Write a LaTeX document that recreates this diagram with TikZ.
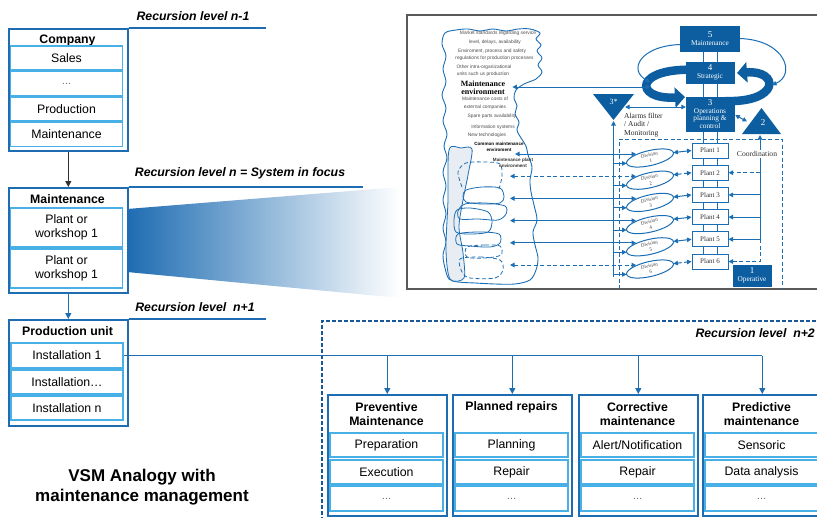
\documentclass[tikz,border=0pt]{standalone}
\usepackage{fontspec}
\setmainfont{Liberation Sans}
\newfontfamily\vsmserif{Liberation Serif}
\usetikzlibrary{arrows.meta,calc,shapes.geometric}
\definecolor{outerblue}{RGB}{30,108,178}
\definecolor{innerblue}{RGB}{72,176,230}
\definecolor{vsmblue}{RGB}{12,94,160}
\definecolor{vsmline}{RGB}{28,110,180}
\definecolor{framegray}{RGB}{90,90,90}
\definecolor{cloudtext}{RGB}{75,75,75}
\definecolor{spinegray}{RGB}{232,237,243}
\definecolor{dashblue}{RGB}{25,88,150}
\definecolor{arrowgray}{RGB}{50,50,50}
\pgfdeclarelayer{bg}
\pgfsetlayers{bg,main}
\begin{document}
\begin{tikzpicture}[x=1pt,y=-1pt,
  outerbox/.style={draw=outerblue,line width=1.6pt,inner sep=0pt,anchor=north west,minimum width=119pt},
  innerbox/.style={draw=innerblue,line width=1.1pt,inner sep=0pt,minimum width=#1,minimum height=24pt,
    align=center,font=\fontsize{12.3}{14.5}\selectfont},
  innerbox/.default=112pt,
  boxtitle/.style={font=\fontsize{12.3}{14}\selectfont\bfseries,align=center,inner sep=0pt},
  reclabel/.style={font=\fontsize{12.3}{14}\selectfont\bfseries\itshape,inner sep=0pt},
  levelline/.style={draw=outerblue,line width=1.5pt},
  bus/.style={draw=outerblue,line width=1.2pt},
  busarrow/.style={bus,-{Triangle[length=6pt,width=6pt]}},
  dashbox/.style={draw=dashblue,line width=1.4pt,dash pattern=on 4pt off 2pt},
  dotsfont/.style={font=\fontsize{10}{12}\selectfont,text=black!65},
  vsmbox/.style={fill=vsmblue,draw=vsmblue,text=white,inner sep=0pt,align=center,
    font=\vsmserif\fontsize{7.3}{8}\selectfont},
  vsmthin/.style={draw=vsmline,line width=1pt},
  vsmone/.style={vsmthin,-{Triangle[length=4.5pt,width=4.5pt]}},
  vsmtwo/.style={vsmthin,{Triangle[length=4.5pt,width=4.5pt]}-{Triangle[length=4.5pt,width=4.5pt]}},
  vsmdash/.style={dash pattern=on 4pt off 2.5pt},
  plantbox/.style={draw=vsmline,line width=1pt,fill=white,minimum width=36pt,minimum height=15pt,
    inner sep=0pt,font=\vsmserif\fontsize{7}{8}\selectfont,text=black!80},
  division/.style={ellipse,draw=vsmline,line width=1pt,fill=white,minimum width=48pt,minimum height=15pt,
    inner sep=0pt,rotate=13,align=center,font=\vsmserif\fontsize{5}{6}\selectfont,text=black!75},
  cloudtxt/.style={font=\fontsize{4.85}{5.5}\selectfont,text=cloudtext,inner sep=0pt},
  band/.style={draw=vsmblue,line width=8.5pt,-{Triangle[length=10pt,width=20pt]}},
  spine/.style={draw=vsmline,line width=0.8pt},
]
\useasboundingbox (0,0) rectangle (817,517);
\begin{pgfonlayer}{bg}
  \fill[white] (0,0) rectangle (817,517);
  % fan from the system in focus towards the VSM picture
  \shade[left color=outerblue,right color=white] (127,209) -- (400,187) -- (400,298) -- (127,272) -- cycle;
\end{pgfonlayer}
\clip (0,0) rectangle (817,517);

% ---------------- recursion level n-1 ----------------
\node[reclabel] (lvlA) at (193,16) {Recursion level n-1};
\node[outerbox,minimum height=122pt] (company) at (8,28) {};
\coordinate (lvlAend) at (266,28);
\draw[levelline] (company.north east) -- (lvlAend);
\node[boxtitle] (companyT) at (67.5,40) {Company};
\node[innerbox] (sales) at (66.5,58) {Sales};
\node[innerbox,dotsfont] (cdots) at (66.5,83.5) {…};
\node[innerbox] (production) at (66.5,109) {Production};
\node[innerbox] (cmaint) at (66.5,134.5) {Maintenance};

% ---------------- recursion level n ----------------
\node[reclabel] (lvlB) at (240,173) {Recursion level n = System in focus};
\node[outerbox,minimum height=105pt] (maint) at (8,187) {};
\coordinate (lvlBend) at (363,187);
\draw[levelline] (maint.north east) -- (lvlBend);
\node[boxtitle] (maintT) at (67.5,199) {Maintenance};
\node[innerbox,minimum height=39pt] (plantA) at (66.5,227.5) {Plant or\\workshop 1};
\node[innerbox,minimum height=39pt] (plantB) at (66.5,268.5) {Plant or\\workshop 1};
\draw[arrowgray,line width=1.2pt,-{Triangle[length=6pt,width=6pt]}] (company.south) -- (maint.north);

% ---------------- recursion level n+1 ----------------
\node[reclabel] (lvlC) at (195,307) {Recursion level~ n+1};
\node[outerbox,minimum height=106pt] (prod) at (8,319) {};
\coordinate (lvlCend) at (266,319);
\draw[levelline] (prod.north east) -- (lvlCend);
\node[boxtitle] (prodT) at (67.5,331) {Production unit};
\node[innerbox,minimum height=25pt] (inst1) at (67,355.5) {Installation 1};
\node[innerbox] (inst2) at (67,382) {Installation…};
\node[innerbox] (inst3) at (67,408) {Installation n};
\draw[busarrow] (maint.south) -- (prod.north);

\node[font=\fontsize{17}{20}\selectfont\bfseries,align=center,inner sep=0pt] (title) at (142,487)
  {VSM Analogy with\\maintenance management};

% ---------------- recursion level n+2 ----------------
\draw[dashbox] (822,321) -- (322,321) -- (322,522);
\node[reclabel,anchor=east] (lvlD) at (815,333) {Recursion level~ n+2};

\node[outerbox,minimum height=121pt] (prev) at (327,394) {};
\node[outerbox,minimum height=121pt] (plan) at (452,394) {};
\node[outerbox,minimum height=121pt] (corr) at (578,394) {};
\node[outerbox,minimum height=121pt] (pred) at (702,394) {};

\node[boxtitle] (prevT) at (386.5,414) {Preventive\\Maintenance};
\node[boxtitle] (planT) at (511.5,407) {Planned repairs};
\node[boxtitle] (corrT) at (637.5,414) {Corrective\\maintenance};
\node[boxtitle] (predT) at (761.5,414) {Predictive\\maintenance};

\node[innerbox=113pt] (prev1) at (386.5,445) {Preparation};
\node[innerbox=113pt] (prev2) at (386.5,472) {Execution};
\node[innerbox=113pt,dotsfont,minimum height=25pt] (prev3) at (386.5,498.5) {…};
\node[innerbox=113pt] (plan1) at (511.5,445) {Planning};
\node[innerbox=113pt] (plan2) at (511.5,472) {Repair};
\node[innerbox=113pt,dotsfont,minimum height=25pt] (plan3) at (511.5,498.5) {…};
\node[innerbox=113pt] (corr1) at (637.5,445) {Alert/Notification};
\node[innerbox=113pt] (corr2) at (637.5,472) {Repair};
\node[innerbox=113pt,dotsfont,minimum height=25pt] (corr3) at (637.5,498.5) {…};
\node[innerbox=113pt] (pred1) at (761.5,445) {Sensoric};
\node[innerbox=113pt] (pred2) at (761.5,472) {Data analysis};
\node[innerbox=113pt,dotsfont,minimum height=25pt] (pred3) at (761.5,498.5) {…};

\draw[bus] (inst1.east) -- (inst1.east -| pred.north);
\foreach \b in {prev,plan,corr,pred}
  \draw[busarrow] (inst1.east -| \b.north) -- (\b.north);

% ---------------- viable system model ----------------
\draw[framegray,line width=1.3pt] (822,15) -- (407,15) -- (407,289) -- (822,289);

% maintenance environment cloud
\draw[spine,line width=0.9pt] plot[smooth cycle,tension=0.55] coordinates {
  (445,33) (456,30) (468,29) (480,31) (493,29) (506,31) (518,29) (530,29) (540,33) (536,39)
  (541,45) (537,51) (542,58) (538,65) (542,72) (536,79) (524,84) (516,90) (514,98) (517,106)
  (515,114) (519,122) (517,130) (521,138) (526,146) (528,155) (532,167) (530,180) (531,192)
  (534,205) (537,220) (533,232) (535,245) (538,258) (536,270) (530,280) (515,284) (495,284)
  (475,283) (458,282) (449,279) (445,268) (443,255) (446,242) (443,228) (446,214) (443,200)
  (446,186) (443,172) (447,158) (444,146) (447,134) (443,121) (446,108) (442,95) (446,82)
  (443,69) (446,56) (442,44)};
% plant environments stacked along the cloud
\filldraw[spine,fill=spinegray] plot[smooth cycle,tension=0.5] coordinates {
  (449,150) (461,148) (472,149) (468,175) (463,200) (459,227) (463,253) (464,278) (450,279)
  (446,250) (448,200)};
\draw[spine,vsmdash] plot[smooth,tension=0.5] coordinates {
  (462,187) (458,172) (466,163) (485,162) (500,164) (502,176) (499,189)};
\draw[spine] plot[smooth cycle,tension=0.5] coordinates {
  (466,190) (482,187) (500,188) (504,197) (500,203) (482,204) (466,202) (463,196)};
\draw[spine] plot[smooth cycle,tension=0.5] coordinates {
  (465,204) (485,203) (505,206) (506,214) (498,220) (478,219) (460,219) (458,211)};
\draw[spine] plot[smooth cycle,tension=0.5] coordinates {
  (457,210) (470,208) (488,212) (492,222) (488,232) (470,234) (456,232) (454,220)};
\draw[spine] plot[smooth cycle,tension=0.5] coordinates {
  (458,234) (480,232) (499,234) (500,243) (490,247) (470,246) (457,244)};
\draw[spine,vsmdash] plot[smooth cycle,tension=0.5] coordinates {
  (467,247) (485,245) (500,246) (501,255) (485,258) (467,257)};
\draw[spine,vsmdash] plot[smooth cycle,tension=0.5] coordinates {
  (460,259) (480,257) (500,260) (503,270) (495,278) (470,278) (462,272)};

\node[cloudtxt] (cl1) at (498,33) {Market standards regarding service};
\node[cloudtxt] (cl2) at (495,42) {level, delays, availability};
\node[cloudtxt] (cl3) at (492,51) {Enviroment, process and safety};
\node[cloudtxt] (cl4) at (494.5,58) {regulations for production processes};
\node[cloudtxt] (cl5) at (484,67) {Other intra-organizational};
\node[cloudtxt] (cl6) at (483,74) {units such us production};
\node[inner sep=0pt,align=center,font=\vsmserif\bfseries\fontsize{8}{8}\selectfont] (menv) at (483,88)
  {Maintenance\\environment};
\node[cloudtxt] (cl7) at (485,99) {Maintenance costs of};
\node[cloudtxt] (cl8) at (485,107) {external companies};
\node[cloudtxt] (cl9) at (492,116) {Spare parts availability};
\node[cloudtxt] (cl10) at (493,127) {Information systems};
\node[cloudtxt] (cl11) at (487,135) {New technologies};
\node[cloudtxt,font=\bfseries\fontsize{4.6}{5.5}\selectfont,text=black,align=center] (cl12) at (499,147)
  {Common maintenance\\enviroment};
\node[cloudtxt,font=\bfseries\fontsize{4.6}{5.5}\selectfont,text=black!80,align=center] (cl13) at (513,163)
  {Maintenance plant\\environment};

% coupling loops around the strategic level
\begin{pgfonlayer}{bg}
  \draw[vsmthin] (703,40) -- (703,262);
  \draw[vsmthin] (717,40) -- (717,262);
\end{pgfonlayer}
\draw[band] (700,70) .. controls (633,66) and (633,100) .. (685,97);
\draw[band] (725,101) .. controls (780,103) and (780,70) .. (737,73);

% system 5, 4 and 3
\node[vsmbox,minimum width=59pt,minimum height=25pt] (box5) at (710,38.5)
  {{\fontsize{9}{9}\selectfont 5}\\Maintenance};
\node[vsmbox,minimum width=48pt,minimum height=21pt] (box4) at (710,72.5)
  {{\fontsize{9}{9}\selectfont 4}\\Strategic};
\node[vsmbox,minimum width=48pt,minimum height=34pt,font=\vsmserif\fontsize{7.3}{7.6}\selectfont] (box3) at (710,114)
  {{\fontsize{9}{9}\selectfont 3}\\Operations\\planning \&\\control};

\coordinate (arcLend) at (650,82);
\coordinate (arcRend) at (772,85);
\draw[vsmone] ($(box5.west)+(0,6)$) .. controls (640,46) and (628,70) .. (arcLend);
\draw[vsmone] (box5.east) .. controls (786,40) and (796,75) .. (arcRend);
\coordinate (loopin) at (650,87);
\draw[vsmtwo] ($(menv.east)+(7,-1)$) -- (loopin);

% system 3* (audit)
\fill[vsmblue] (593,94) -- (634,94) -- (613.5,120) -- cycle;
\node[text=white,font=\vsmserif\fontsize{8}{9}\selectfont,inner sep=0pt] (s3label) at (613.5,102) {3*};
\coordinate (s3apex) at (613.5,121);
\coordinate (s3right) at (625,107);
\coordinate (s3foot) at (613.5,277);
\draw[vsmone] (s3foot) -- (s3apex);
\draw[vsmtwo] (s3right) -- (s3right -| box3.west);
\node[anchor=west,align=left,inner sep=0pt,font=\vsmserif\fontsize{7.5}{8.3}\selectfont,text=black!85] (alarm)
  at (624,125) {Alarms filter\\/ Audit /\\Monitoring};

% system 2 (coordination)
\fill[vsmblue] (742,134) -- (781,134) -- (761.5,108) -- cycle;
\node[text=white,font=\vsmserif\fontsize{9}{9}\selectfont,inner sep=0pt] (t2label) at (763,123) {2};
\coordinate (t2base) at (760,135);
\coordinate (t2left) at (747,121.5);
\draw[vsmtwo] ($(box3.east)+(1,1)$) -- (t2left);

% system 1 (operative)
\draw[vsmthin,vsmdash] (619,289) -- (619,139) -- (782,139) -- (782,289);
\foreach \k in {1,...,6} {
  \node[plantbox] (plant\k) at (710,{150.5+22.2*(\k-1)}) {Plant \k};
  \node[division] (div\k) at (650,{158+22.2*(\k-1)}) {Division\\\k};
}
\foreach \k/\xl/\st in {1/515/solid,2/510/vsmdash,3/510/solid,4/510/solid,5/510/solid,6/510/vsmdash} {
  \coordinate (envk\k) at (\xl,{154+22.2*(\k-1)});
  \draw[vsmtwo,\st] (envk\k) -- ($(div\k.center)+(-14,-4)$);
  \draw[vsmone] ($(div\k.center)+(-36.5,5.4)$) -- ($(div\k.center)+(-23.4,5.4)$);
  \draw[vsmtwo,\st] ($(div\k.center)+(23.4,-5.4)$) -- (plant\k.west);
}
\coordinate (coordfoot) at (760,239.3);
\draw[vsmone] (coordfoot) -- (t2base);
\foreach \k in {3,4,5}
  \draw[vsmone] (coordfoot |- plant\k.east) -- (plant\k.east);
\draw[vsmone,vsmdash] (coordfoot |- plant2.east) -- (plant2.east);
\draw[vsmone,vsmdash] (coordfoot) -- (coordfoot |- plant6.east) -- (plant6.east);
\node[fill=white,inner sep=1pt,font=\vsmserif\fontsize{7.6}{8}\selectfont,text=black!80] (coord) at (757,154) {Coordination};
\node[vsmbox,minimum width=38pt,minimum height=21pt] (box1) at (752,275.5)
  {{\fontsize{9}{9}\selectfont 1}\\Operative};
\end{tikzpicture}
\end{document}
